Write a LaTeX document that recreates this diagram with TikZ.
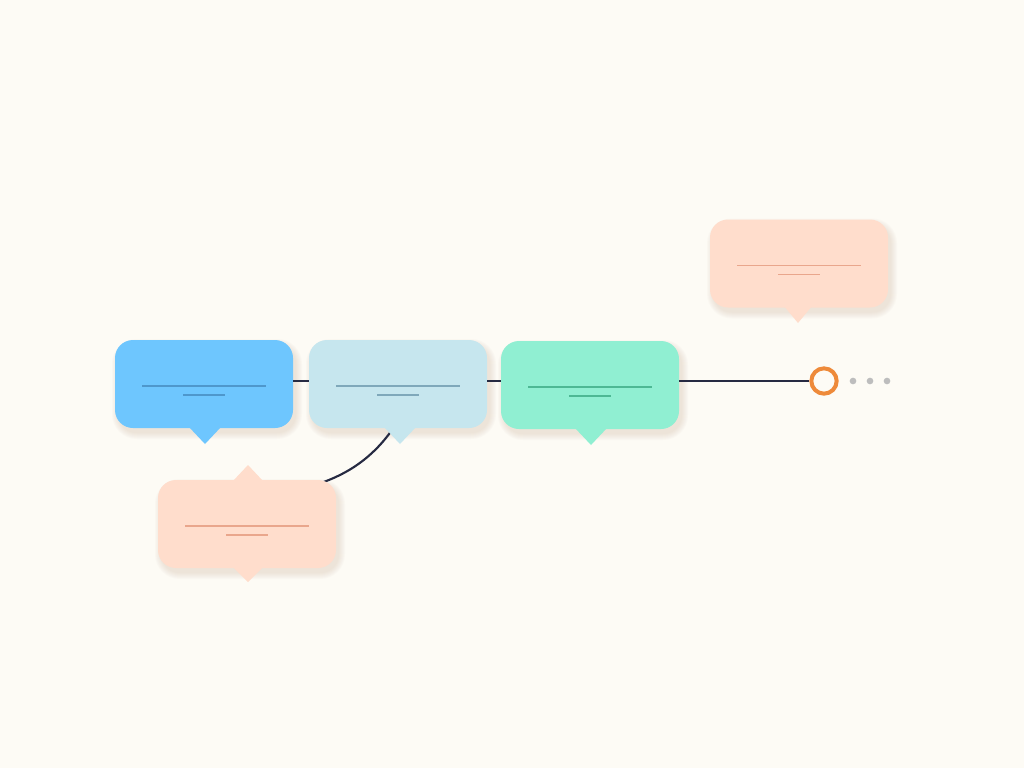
\documentclass[tikz,border=0pt]{standalone}
\definecolor{bg}{HTML}{FDFBF5}
\definecolor{cblue}{HTML}{6EC6FE}
\definecolor{lblue}{HTML}{4E97CC}
\definecolor{cpale}{HTML}{C6E6EE}
\definecolor{lpale}{HTML}{7FA8BA}
\definecolor{cgreen}{HTML}{90EFD2}
\definecolor{lgreen}{HTML}{4DB894}
\definecolor{cpeach}{HTML}{FFDDCC}
\definecolor{lpeach}{HTML}{E9A68C}
\definecolor{navy}{HTML}{262A42}
\definecolor{corange}{HTML}{EE8A3A}
\definecolor{cdot}{HTML}{BDBDBD}
\definecolor{shad}{HTML}{C9AE98}
\tikzset{
  bubble/.style={rectangle, rounded corners=13.5pt, minimum width=133.5pt, minimum height=66pt, inner sep=0pt},
  bar/.style={line width=0.85pt},
  conn/.style={draw=navy, line width=1.6pt},
}
\newcommand{\softshadow}[2]{% center x, y
  \foreach \i in {0,1,...,6}{
    \fill[shad, opacity=0.045, rounded corners=14pt+0.75*\i pt]
      (#1-89-\i+3, #2-44-\i+5) rectangle (#1+89+\i+3, #2+44+\i+5);
  }
}
\begin{document}
\begin{tikzpicture}[x=0.75pt,y=-0.75pt]
\fill[bg] (0,0) rectangle (1024,768);
\useasboundingbox (0,0) rectangle (1024,768);
% shadows
\softshadow{204}{384}
\softshadow{398}{384}
\softshadow{590}{385}
\softshadow{247}{524}
\softshadow{799}{263.5}
% curve under box 2 tail
\coordinate (cs) at (392,430);
\coordinate (ce) at (318,484);
\draw[conn] (cs) .. controls (372,458) and (348,474) .. (ce);
% bubbles
\node[bubble, fill=cblue] (b1) at (204,384) {};
\fill[cblue] (189,427) -- (205,444) -- (221,427) -- cycle;
\node[bubble, fill=cpale] (b2) at (398,384) {};
\fill[cpale] (384,427) -- (400,444) -- (416,427) -- cycle;
\node[bubble, fill=cgreen] (b3) at (590,385) {};
\fill[cgreen] (575,428) -- (591,445) -- (607,428) -- cycle;
\node[bubble, fill=cpeach] (p1) at (247,524) {};
\fill[cpeach] (233,481) -- (248,465) -- (263,481) -- cycle;
\fill[cpeach] (233,567) -- (248,582) -- (263,567) -- cycle;
\node[bubble, fill=cpeach] (p2) at (799,263.5) {};
\fill[cpeach] (784,306) -- (798,323) -- (812,306) -- cycle;
% bars
\foreach \n/\c in {b1/lblue,b2/lpale,b3/lgreen,p1/lpeach,p2/lpeach}{
  \draw[bar, draw=\c] ([shift={(-62,2)}]\n.center) -- ([shift={(62,2)}]\n.center);
  \draw[bar, draw=\c] ([shift={(-21,11)}]\n.center) -- ([shift={(21,11)}]\n.center);
}
% main line
\node[circle, draw=corange, line width=3pt, fill=bg, minimum size=19pt, inner sep=0pt] (ring) at (824,381) {};
\draw[conn] (b1.east |- 0,381) -- (b2.west |- 0,381);
\draw[conn] (b2.east |- 0,381) -- (b3.west |- 0,381);
\draw[conn] (b3.east |- 0,381) -- (ring.west);
\foreach \x/\nm in {853/d1,870/d2,887/d3}{
  \node[circle, fill=cdot, minimum size=5pt, inner sep=0pt] (\nm) at (\x,381) {};
}
\end{tikzpicture}
\end{document}
